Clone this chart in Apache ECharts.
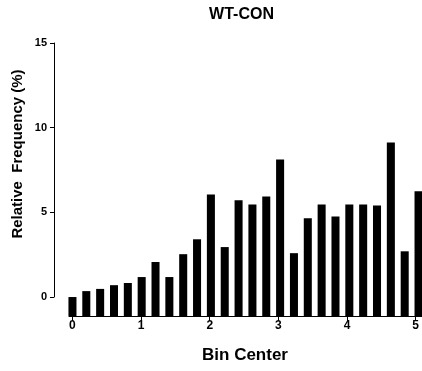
<!DOCTYPE html>
<html>
<head>
<meta charset="utf-8">
<script src="https://cdn.jsdelivr.net/npm/echarts@6/dist/echarts.min.js"></script>
<style>
html,body{margin:0;padding:0;background:#fff;}
#c{width:422px;height:371px;}
</style>
</head>
<body>
<div id="c"></div>
<script>
var titleText = 'WT-CON';
var xName = 'Bin Center';
var yName = 'Relative  Frequency (%)';
var binCenters = [0.0, 0.2, 0.4, 0.6, 0.8, 1.0, 1.2, 1.4, 1.6, 1.8, 2.0, 2.2, 2.4, 2.6, 2.8, 3.0, 3.2, 3.4, 3.6, 3.8, 4.0, 4.2, 4.4, 4.6, 4.8, 5.0];
var relFreq = [0.0, 0.35, 0.48, 0.7, 0.83, 1.18, 2.07, 1.18, 2.53, 3.41, 6.06, 2.95, 5.71, 5.47, 5.94, 8.12, 2.59, 4.65, 5.47, 4.76, 5.47, 5.47, 5.41, 9.12, 2.7, 6.25];
var xTickMin = 0, xTickMax = 5, xTickStep = 1;
var yTickMin = 0, yTickMax = 15, yTickStep = 5;

var FONT = '"Liberation Sans", Arial, sans-serif';
var Y_MIN_PLOT = -1.12;
var X_MIN_PLOT = -0.05, X_MAX_PLOT = 5.05;
var BAR_HALF = 0.058;
var PLOT_LEFT = 69, PLOT_W = 353;
var pxPerUnit = PLOT_W / (X_MAX_PLOT - X_MIN_PLOT);

var data = binCenters.map(function (x, i) { return [x, relFreq[i]]; });

var chart = echarts.init(document.getElementById('c'), null, {renderer: 'canvas'});
chart.setOption({
  animation: false,
  backgroundColor: '#ffffff',
  grid: [
    {left: PLOT_LEFT, width: PLOT_W, top: 43, height: 273},
    {left: 54, width: 1, top: 43, height: 254},
    {left: PLOT_LEFT + (xTickMin - X_MIN_PLOT) * pxPerUnit, width: (xTickMax - xTickMin) * pxPerUnit, top: 43, height: 273}
  ],
  xAxis: [
    {
      gridIndex: 0, type: 'value', min: X_MIN_PLOT, max: X_MAX_PLOT,
      splitLine: {show: false},
      axisLine: {show: true, onZero: false, lineStyle: {color: '#000', width: 1}},
      axisTick: {show: false},
      axisLabel: {show: false}
    },
    {gridIndex: 1, type: 'value', min: 0, max: 1, show: false},
    {
      gridIndex: 2, type: 'value', min: xTickMin, max: xTickMax, interval: xTickStep,
      splitLine: {show: false},
      axisLine: {show: false, onZero: false},
      axisTick: {show: true, length: 5, lineStyle: {color: '#000', width: 1}},
      axisLabel: {show: true, margin: 4, color: '#000', fontSize: 12, fontWeight: 'bold', fontFamily: FONT}
    }
  ],
  yAxis: [
    {gridIndex: 0, type: 'value', min: Y_MIN_PLOT, max: 15, show: false},
    {
      gridIndex: 1, type: 'value', min: yTickMin, max: yTickMax, interval: yTickStep,
      splitLine: {show: false},
      axisLine: {show: true, onZero: false, lineStyle: {color: '#000', width: 1}},
      axisTick: {show: true, length: 4, lineStyle: {color: '#000', width: 1}},
      axisLabel: {show: true, margin: 7, color: '#000', fontSize: 11, fontWeight: 'bold', fontFamily: FONT}
    },
    {gridIndex: 2, type: 'value', min: 0, max: 1, show: false}
  ],
  series: [{
    type: 'custom',
    xAxisIndex: 0, yAxisIndex: 0,
    data: data,
    clip: false,
    renderItem: function (params, api) {
      var x = api.value(0), v = api.value(1);
      var p0 = api.coord([x - BAR_HALF, v]);
      var p1 = api.coord([x + BAR_HALF, Y_MIN_PLOT]);
      return {
        type: 'rect',
        shape: {x: p0[0], y: p0[1], width: p1[0] - p0[0], height: p1[1] - p0[1]},
        style: {fill: '#000'}
      };
    }
  }],
  graphic: [
    {type: 'text', x: 241.5, y: 15, style: {text: titleText, fill: '#000', font: 'bold 16px ' + FONT, textAlign: 'center', textVerticalAlign: 'middle'}},
    {type: 'text', x: 245, y: 355.5, style: {text: xName, fill: '#000', font: 'bold 17px ' + FONT, textAlign: 'center', textVerticalAlign: 'middle'}},
    {type: 'text', x: 18, y: 154, rotation: Math.PI / 2, style: {text: yName, fill: '#000', font: 'bold 15px ' + FONT, textAlign: 'center', textVerticalAlign: 'middle'}}
  ]
});
</script>
</body>
</html>
